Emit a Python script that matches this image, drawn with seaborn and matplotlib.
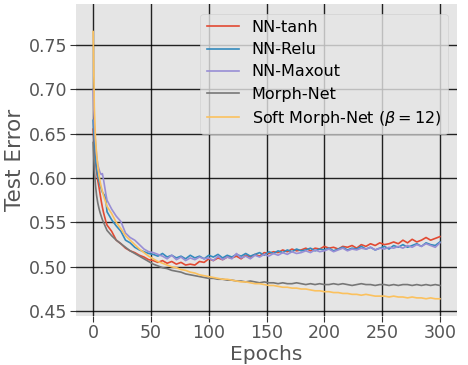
import numpy as np
import pandas as pd
import matplotlib
matplotlib.use("Agg")
import matplotlib.pyplot as plt
import seaborn as sns

epochs = list(range(0, 12)) + list(range(12, 301, 4))

nn_tanh = [0.655, 0.635, 0.620, 0.607, 0.597, 0.590, 0.582, 0.574, 0.567, 0.561, 0.556, 0.551,
           0.547, 0.540, 0.530, 0.526, 0.521, 0.518, 0.516, 0.513, 0.511, 0.508, 0.507, 0.505,
           0.507, 0.504, 0.506, 0.503, 0.505, 0.502, 0.503, 0.502, 0.506, 0.505, 0.509, 0.507,
           0.510, 0.508, 0.511, 0.510, 0.512, 0.509, 0.513, 0.511, 0.514, 0.512, 0.516, 0.515,
           0.517, 0.516, 0.519, 0.517, 0.520, 0.518, 0.519, 0.521, 0.518, 0.521, 0.520, 0.523,
           0.521, 0.522, 0.520, 0.523, 0.522, 0.524, 0.521, 0.525, 0.523, 0.526, 0.524, 0.527,
           0.525, 0.526, 0.528, 0.526, 0.530, 0.527, 0.531, 0.528, 0.530, 0.533, 0.530, 0.532,
           0.534]

nn_relu = [0.665, 0.640, 0.622, 0.610, 0.602, 0.597, 0.592, 0.588, 0.584, 0.582, 0.580, 0.575,
           0.562, 0.553, 0.546, 0.540, 0.530, 0.527, 0.522, 0.519, 0.517, 0.515, 0.514, 0.512,
           0.515, 0.511, 0.513, 0.510, 0.512, 0.509, 0.513, 0.510, 0.512, 0.509, 0.513, 0.511,
           0.514, 0.510, 0.513, 0.511, 0.514, 0.512, 0.515, 0.512, 0.514, 0.516, 0.513, 0.517,
           0.515, 0.518, 0.516, 0.519, 0.517, 0.520, 0.518, 0.519, 0.521, 0.518, 0.520, 0.519,
           0.521, 0.518, 0.520, 0.522, 0.519, 0.521, 0.520, 0.523, 0.520, 0.522, 0.519, 0.521,
           0.523, 0.520, 0.524, 0.522, 0.525, 0.522, 0.524, 0.526, 0.523, 0.527, 0.525, 0.524,
           0.528]

nn_maxout = [0.699, 0.660, 0.640, 0.625, 0.615, 0.610, 0.606, 0.604, 0.605, 0.598, 0.590, 0.582,
             0.575, 0.565, 0.557, 0.551, 0.538, 0.533, 0.530, 0.525, 0.520, 0.517, 0.516, 0.514,
             0.512, 0.509, 0.513, 0.508, 0.511, 0.507, 0.510, 0.508, 0.511, 0.509, 0.510, 0.507,
             0.512, 0.508, 0.511, 0.509, 0.515, 0.510, 0.512, 0.509, 0.513, 0.511, 0.514, 0.512,
             0.515, 0.513, 0.516, 0.514, 0.517, 0.515, 0.516, 0.518, 0.516, 0.519, 0.517, 0.518,
             0.520, 0.517, 0.519, 0.521, 0.518, 0.520, 0.519, 0.521, 0.520, 0.522, 0.519, 0.521,
             0.520, 0.522, 0.521, 0.523, 0.521, 0.524, 0.522, 0.525, 0.523, 0.526, 0.524, 0.522,
             0.527]

morph_net = [0.640, 0.610, 0.592, 0.580, 0.572, 0.566, 0.561, 0.557, 0.553, 0.550, 0.547, 0.544,
             0.541, 0.535, 0.530, 0.526, 0.522, 0.518, 0.515, 0.512, 0.509, 0.506, 0.503, 0.501,
             0.499, 0.498, 0.496, 0.495, 0.494, 0.492, 0.491, 0.490, 0.489, 0.488, 0.487, 0.487,
             0.486, 0.486, 0.485, 0.485, 0.484, 0.484, 0.483, 0.484, 0.483, 0.482, 0.483, 0.482,
             0.482, 0.481, 0.482, 0.481, 0.481, 0.482, 0.481, 0.480, 0.481, 0.480, 0.481, 0.480,
             0.480, 0.481, 0.480, 0.481, 0.480, 0.479, 0.480, 0.481, 0.480, 0.480, 0.479, 0.480,
             0.480, 0.479, 0.480, 0.479, 0.480, 0.480, 0.479, 0.480, 0.479, 0.480, 0.479, 0.480,
             0.479]

soft_morph = [0.765, 0.680, 0.645, 0.627, 0.614, 0.604, 0.596, 0.590, 0.585, 0.580, 0.576, 0.572,
              0.568, 0.560, 0.550, 0.543, 0.535, 0.530, 0.525, 0.520, 0.516, 0.512, 0.509, 0.506,
              0.504, 0.502, 0.500, 0.499, 0.497, 0.496, 0.494, 0.493, 0.491, 0.490, 0.489, 0.488,
              0.487, 0.486, 0.486, 0.485, 0.484, 0.483, 0.483, 0.482, 0.481, 0.481, 0.480, 0.479,
              0.479, 0.478, 0.477, 0.477, 0.476, 0.476, 0.475, 0.475, 0.474, 0.473, 0.473, 0.472,
              0.472, 0.471, 0.471, 0.470, 0.470, 0.469, 0.469, 0.468, 0.469, 0.468, 0.467, 0.467,
              0.467, 0.466, 0.467, 0.466, 0.466, 0.465, 0.466, 0.465, 0.465, 0.464, 0.465, 0.464,
              0.464]

labels = ["NN-tanh", "NN-Relu", "NN-Maxout", "Morph-Net", r"Soft Morph-Net ($\beta = 12$)"]
colors = ["#E24A33", "#348ABD", "#988ED5", "#777777", "#FBC15E"]
series = [nn_tanh, nn_relu, nn_maxout, morph_net, soft_morph]

frames = []
for lab, vals in zip(labels, series):
    frames.append(pd.DataFrame({"Epochs": epochs, "Test Error": vals, "model": lab}))
df = pd.concat(frames, ignore_index=True)

plt.style.use("ggplot")
fig = plt.figure(figsize=(4.68, 3.65), dpi=100)
ax = fig.add_axes([0.162, 0.134, 0.815, 0.855])
ax.set_facecolor("#E5E5E5")

sns.lineplot(data=df, x="Epochs", y="Test Error", hue="model", hue_order=labels,
             palette=colors, linewidth=1.2, ax=ax, legend=True)

ax.set_xlim(-15, 315)
ax.set_ylim(0.4445, 0.796)
ax.set_xticks([0, 50, 100, 150, 200, 250, 300])
ax.set_yticks([0.45, 0.50, 0.55, 0.60, 0.65, 0.70, 0.75])
ax.set_yticklabels(["0.45", "0.50", "0.55", "0.60", "0.65", "0.70", "0.75"])
ax.grid(True, color="black", linewidth=1.0, alpha=0.85)
ax.set_axisbelow(True)
ax.tick_params(axis="both", labelsize=12.5, colors="#555555", length=4, direction="out", pad=2)
ax.tick_params(axis="both", color="#333333")
ax.set_xlabel("Epochs", fontsize=14.5, color="#555555", labelpad=2)
ax.set_ylabel("Test Error", fontsize=15.5, color="#555555", labelpad=3)
for s in ax.spines.values():
    s.set_visible(False)

leg = ax.legend(loc="upper right", fontsize=11.5, frameon=True, framealpha=0.8,
                facecolor="#E5E5E5", edgecolor="#CCCCCC", handlelength=2.0,
                borderaxespad=0.6, labelspacing=0.45)
for t in leg.get_texts():
    t.set_color("black")

fig.savefig("out.png", dpi=100)
